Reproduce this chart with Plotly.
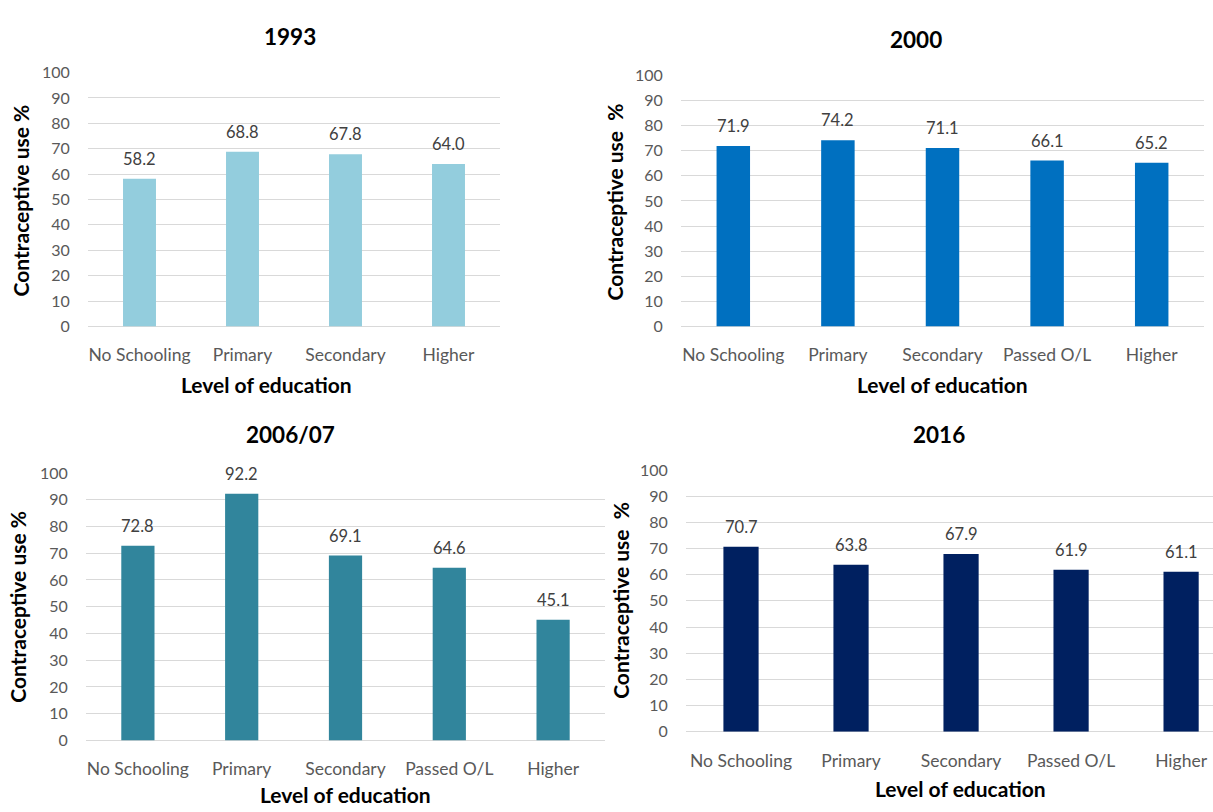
import plotly.graph_objects as go

W, H = 1213, 812

cats_1993 = ["No Schooling", "Primary", "Secondary", "Higher"]
vals_1993 = [58.2, 68.8, 67.8, 64.0]

cats_2000 = ["No Schooling", "Primary", "Secondary", "Passed O/L", "Higher"]
vals_2000 = [71.9, 74.2, 71.1, 66.1, 65.2]

cats_2006 = ["No Schooling", "Primary", "Secondary", "Passed O/L", "Higher"]
vals_2006 = [72.8, 92.2, 69.1, 64.6, 45.1]

cats_2016 = ["No Schooling", "Primary", "Secondary", "Passed O/L", "Higher"]
vals_2016 = [70.7, 63.8, 67.9, 61.9, 61.1]

y_ticks = [0, 10, 20, 30, 40, 50, 60, 70, 80, 90, 100]

FONT = "Lato"
TICK_COLOR = "#595959"
GRID = "#D9D9D9"

panels = [
    dict(title="1993", cats=cats_1993, vals=vals_1993, color="#93CDDD",
         box=(88, 500, 64, 324), tpos=(290, 27), xtpos=(266, 383), ytpos=(20, 195),
         ytext="Contraceptive use %", xr=None),
    dict(title="2000", cats=cats_2000, vals=vals_2000, color="#0070C0",
         box=(681, 1204, 67, 324), tpos=(916, 30), xtpos=(942, 383), ytpos=(614, 197),
         ytext="Contraceptive use  %", xr=None),
    dict(title="2006/07", cats=cats_2006, vals=vals_2006, color="#31859C",
         box=(86, 605, 474, 748), tpos=(290, 435), xtpos=(345, 803), ytpos=(18, 611),
         ytext="Contraceptive use %", xr=None),
    dict(title="2016", cats=cats_2016, vals=vals_2016, color="#002060",
         box=(686, 1213, 471, 739), tpos=(939, 435), xtpos=(960, 797), ytpos=(621, 605),
         ytext="Contraceptive use  %", xr=[-0.5, 4.29]),
]

fig = go.Figure()
annotations = []

for i, p in enumerate(panels, start=1):
    xa = "x" if i == 1 else f"x{i}"
    ya = "y" if i == 1 else f"y{i}"
    fig.add_trace(go.Bar(
        x=p["cats"], y=p["vals"], marker=dict(color=p["color"], line=dict(width=0)),
        width=0.32, xaxis=xa, yaxis=ya, showlegend=False, hoverinfo="x+y",
    ))
    x0, x1, y0, y1 = p["box"]
    xkey = "xaxis" if i == 1 else f"xaxis{i}"
    ykey = "yaxis" if i == 1 else f"yaxis{i}"
    xr = p["xr"] if p["xr"] is not None else [-0.5, len(p["cats"]) - 0.5]
    fig.update_layout({
        xkey: dict(domain=[x0 / W, x1 / W], anchor=ya, range=xr, showgrid=False,
                   showline=False, zeroline=False, ticks="outside", ticklen=13,
                   tickcolor="rgba(0,0,0,0)", tickfont=dict(family=FONT, size=17.5, color=TICK_COLOR),
                   fixedrange=True),
        ykey: dict(domain=[1 - y1 / H, 1 - y0 / H], anchor=xa, range=[0, 100],
                   tickvals=y_ticks, showgrid=True, gridcolor=GRID, gridwidth=1,
                   zeroline=True, zerolinecolor=GRID, zerolinewidth=1, showline=False,
                   ticks="outside", ticklen=14, tickcolor="rgba(0,0,0,0)",
                   tickfont=dict(family=FONT, size=16, color=TICK_COLOR), fixedrange=True),
    })
    for c, v in zip(p["cats"], p["vals"]):
        annotations.append(dict(x=c, y=v, xref=xa, yref=ya, text=f"{v:.1f}",
                                showarrow=False, yanchor="middle", yshift=20,
                                font=dict(family=FONT, size=16.5, color="#404040")))
    annotations.append(dict(x=p["tpos"][0] / W, y=1 - p["tpos"][1] / H, xref="paper", yref="paper",
                            text=f"<b>{p['title']}</b>", showarrow=False,
                            xanchor="center", yanchor="middle",
                            font=dict(family=FONT, size=22.5, color="#000000")))
    annotations.append(dict(x=p["xtpos"][0] / W, y=1 - p["xtpos"][1] / H, xref="paper", yref="paper",
                            text="<b>Level of education</b>", showarrow=False,
                            xanchor="center", yanchor="middle",
                            font=dict(family=FONT, size=21, color="#000000")))
    annotations.append(dict(x=p["ytpos"][0] / W, y=1 - p["ytpos"][1] / H, xref="paper", yref="paper",
                            text=f"<b>{p['ytext']}</b>", showarrow=False, textangle=-90,
                            xanchor="center", yanchor="middle",
                            font=dict(family=FONT, size=21, color="#000000")))

fig.update_layout(
    width=W, height=H, margin=dict(l=0, r=0, t=0, b=0),
    paper_bgcolor="white", plot_bgcolor="white",
    annotations=annotations,
    font=dict(family=FONT),
)

fig.write_html("out.html", config={"displayModeBar": False})
